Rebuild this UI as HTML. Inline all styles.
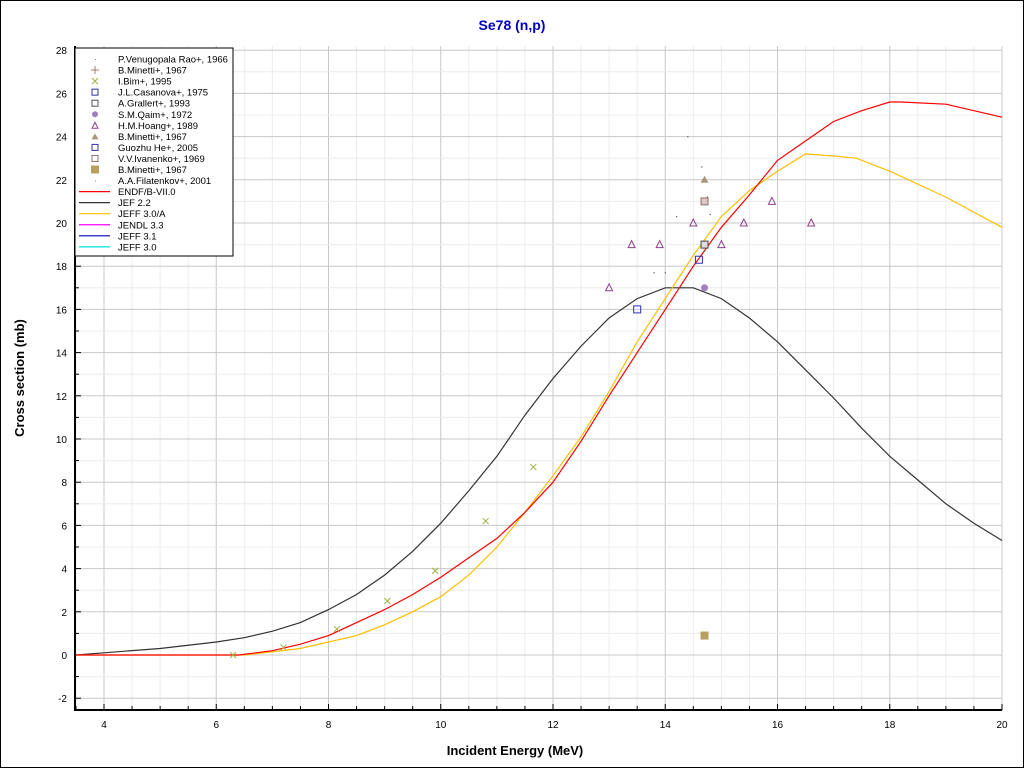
<!DOCTYPE html>
<html><head><meta charset="utf-8"><style>
body{margin:0;background:#fff;}
svg{display:block;font-family:"Liberation Sans",sans-serif;}
</style></head><body>
<svg id="c" width="1024" height="768">
<rect x="0.5" y="0.5" width="1023" height="767" fill="#fff" stroke="#000"/>
<text x="512" y="30" text-anchor="middle" font-size="14" font-weight="bold" fill="#0000c0">Se78 (n,p)</text>
<g id="grid"></g>
<g id="axes"></g>
<g id="series"></g>
<g id="pts"></g>
<text x="515" y="755" text-anchor="middle" font-size="13" font-weight="bold">Incident Energy (MeV)</text>
<text transform="translate(24,378) rotate(-90)" text-anchor="middle" font-size="13" font-weight="bold">Cross section (mb)</text>
<g id="legend"></g>
</svg>
<script>
const xTicks=[4,6,8,10,12,14,16,18,20];
const yTicks=[-2,0,2,4,6,8,10,12,14,16,18,20,22,24,26,28];
const jef22X=[3.5,4,5,6,6.5,7,7.5,8,8.5,9,9.5,10,10.5,11,11.5,12,12.5,13,13.5,14,14.5,15,15.5,16,16.5,17,17.5,18,18.5,19,19.5,20];
const jef22Y=[0,0.1,0.3,0.6,0.8,1.1,1.5,2.1,2.8,3.7,4.8,6.1,7.6,9.2,11.1,12.8,14.3,15.6,16.5,17,17,16.5,15.6,14.5,13.2,11.9,10.5,9.2,8.1,7.0,6.1,5.3];
const endfX=[3.5,6.4,7,7.5,8,8.5,9,9.5,10,10.5,11,11.5,12,12.5,13,13.5,14,14.5,15,15.5,16,16.5,17,17.5,18,18.2,19,20];
const endfY=[0,0,0.2,0.5,0.9,1.5,2.1,2.8,3.6,4.5,5.4,6.6,8,9.9,12,14,16,18,19.8,21.3,22.9,23.8,24.7,25.2,25.6,25.6,25.5,24.9];
const jeffaX=[3.5,6.5,7,7.5,8,8.5,9,9.5,10,10.5,11,11.5,12,12.5,13,13.5,14,14.5,15,15.5,16,16.5,17,17.4,18,19,20];
const jeffaY=[0,0,0.15,0.3,0.6,0.9,1.4,2,2.7,3.7,5,6.6,8.3,10.1,12.2,14.5,16.5,18.5,20.3,21.5,22.4,23.2,23.1,23.0,22.4,21.2,19.8];
const hoangX=[13,13.4,13.9,14.5,15,15.4,15.9,16.6];
const hoangY=[17,19,19,20,19,20,21,20];
const guozhuX=[13.5,14.6];
const guozhuY=[16,18.3];
const bimX=[6.3,7.2,8.15,9.05,9.9,10.8,11.65];
const bimY=[0,0.35,1.2,2.5,3.9,6.2,8.7];
const dotX=[14.4,14.65,13.8,14.0,14.2,14.7,14.75,14.8];
const dotY=[24,22.6,17.7,17.7,20.3,18.7,21.2,20.4];
const NS="http://www.w3.org/2000/svg";
const X0=75,X1=1002,Y0=46,Y1=710;
const sx=v=>104+(v-4)*56.125;
const sy=v=>655-v*21.6;
function mk(tag,attrs,parent){const e=document.createElementNS(NS,tag);for(const k in attrs)e.setAttribute(k,attrs[k]);document.getElementById(parent).appendChild(e);return e;}
for(let v=3.5;v<=20.01;v+=0.5){const major=Math.abs(v%2)<0.01;const g=mk('line',{x1:sx(v),x2:sx(v),y1:Y0,y2:Y1,stroke:major?'#c8c8c8':'#ececec'},'grid');

}
for(let v=-2;v<=28;v+=1){const g=mk('line',{x1:X0,x2:X1,y1:sy(v),y2:sy(v),stroke:v%2==0?'#c8c8c8':'#ececec'},'grid');

}
const ax=mk('path',{d:`M${X0},${Y0}V${Y1}H${X1}`,stroke:'#000','stroke-width':2,fill:'none'},'axes');


for(let v=3.5;v<=20.01;v+=0.5){mk('line',{x1:sx(v),x2:sx(v),y1:Y1,y2:Y1-(Math.abs(v%2)<0.01?6:4),stroke:'#000'},'axes');}
for(let v=-2;v<=28;v+=1){mk('line',{x1:X0,x2:X0+(v%2==0?6:4),y1:sy(v),y2:sy(v),stroke:'#000'},'axes');}
xTicks.forEach(v=>{const t=mk('text',{x:sx(v),y:728,'text-anchor':'middle','font-size':10},'axes');t.textContent=v;

});
yTicks.forEach(v=>{const t=mk('text',{x:67,y:sy(v)+4,'text-anchor':'end','font-size':10},'axes');t.textContent=v;

});
function line(xs,ys,col,name){const d=xs.map((x,i)=>(i?'L':'M')+sx(x).toFixed(1)+','+sy(ys[i]).toFixed(1)).join('');
const p=mk('path',{d:d,stroke:col,fill:'none','stroke-width':1.2},'series');

}
line(jef22X,jef22Y,'#333','jef22-line');
line(jeffaX,jeffaY,'#ffbf00','jeff30a-line');
line(endfX,endfY,'#ff0000','endf-line');
hoangX.forEach((x,i)=>{const X=sx(x),Y=sy(hoangY[i]);const p=mk('path',{d:`M${X},${Y-4}L${X+3.5},${Y+3}L${X-3.5},${Y+3}Z`,fill:'none',stroke:'#904090'},'pts');

});
guozhuX.forEach((x,i)=>{const p=mk('rect',{x:sx(x)-3.5,y:sy(guozhuY[i])-3.5,width:7,height:7,fill:'none',stroke:'#3030b0'},'pts');

});
bimX.forEach((x,i)=>{const X=sx(x),Y=sy(bimY[i]);const p=mk('path',{d:`M${X-3},${Y-3}L${X+3},${Y+3}M${X+3},${Y-3}L${X-3},${Y+3}`,stroke:'#a0b040'},'pts');

});
dotX.forEach((x,i)=>{const p=mk('rect',{x:sx(x)-0.5,y:sy(dotY[i])-0.5,width:1.2,height:1.2,fill:'#555'},'pts');

});
let e;
e=mk('path',{d:`M${sx(14.7)},${sy(22)-4}l4,7h-8z`,fill:'#a89878'},'pts');


e=mk('rect',{x:sx(14.7)-3.5,y:sy(21)-3.5,width:7,height:7,fill:'#d8c8c8',stroke:'#907070'},'pts');


e=mk('rect',{x:sx(14.7)-3.5,y:sy(19)-3.5,width:7,height:7,fill:'#ddd',stroke:'#444'},'pts');


e=mk('circle',{cx:sx(14.7),cy:sy(17),r:3.5,fill:'#a080c0'},'pts');


e=mk('rect',{x:sx(14.7)-4,y:sy(0.9)-4,width:8,height:8,fill:'#b8a060'},'pts');


const lb=mk('rect',{x:75,y:48,width:158,height:208,fill:'#fff',stroke:'#000'},'legend');


const labels=["P.Venugopala Rao+, 1966","B.Minetti+, 1967","I.Bim+, 1995","J.L.Casanova+, 1975","A.Grallert+, 1993","S.M.Qaim+, 1972","H.M.Hoang+, 1989","B.Minetti+, 1967","Guozhu He+, 2005","V.V.Ivanenko+, 1969","B.Minetti+, 1967","A.A.Filatenkov+, 2001","ENDF/B-VII.0","JEF 2.2","JEFF 3.0/A","JENDL 3.3","JEFF 3.1","JEFF 3.0"];
const lineCols=["#ff0000","#333","#ffbf00","#ff00ff","#0000c0","#00e0e0"];
const mcols=["#888","#a08070","#a0b040","#3030b0","#555","#a080c0","#904090","#a89878","#3030b0","#907070","#b8a060","#888"];
labels.forEach((l,i)=>{const y=59+i*11.05;const t=mk('text',{x:118,y:y+3.5,'font-size':9.5},'legend');t.textContent=l;


if(i>=12){mk('line',{x1:79,x2:110,y1:y,y2:y,stroke:lineCols[i-12],'stroke-width':1.2},'legend');}
else if(i==0||i==11){mk('rect',{x:95,y:y,width:1,height:1,fill:'#888'},'legend');}
else if(i==5){mk('circle',{cx:95,cy:y,r:3,fill:mcols[i]},'legend');}
else if(i==7){mk('path',{d:`M95,${y-3}l3.5,6h-7z`,fill:mcols[i]},'legend');}
else if(i==6){mk('path',{d:`M95,${y-3}l3,6h-6z`,fill:'none',stroke:mcols[i]},'legend');}
else if(i==10){mk('rect',{x:91,y:y-4,width:8,height:8,fill:mcols[i]},'legend');}
else if(i==1){mk('path',{d:`M91,${y}h8M95,${y-4}v8`,stroke:mcols[i]},'legend');}
else if(i==2){mk('path',{d:`M92,${y-3}l6,6M98,${y-3}l-6,6`,stroke:mcols[i]},'legend');}
else{mk('rect',{x:92,y:y-3,width:6,height:6,fill:'none',stroke:mcols[i]},'legend');}
});
</script>
</body></html>
